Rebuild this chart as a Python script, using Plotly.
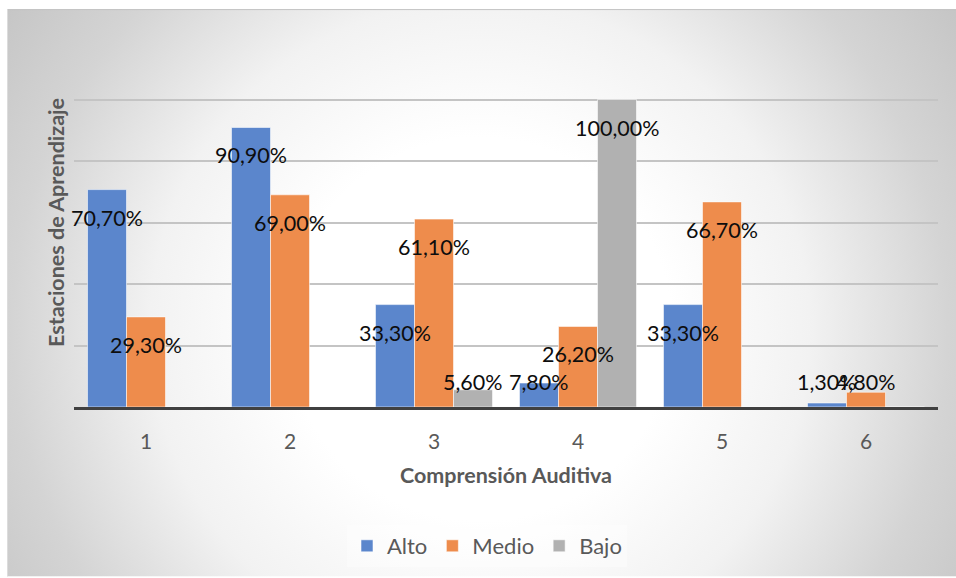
import plotly.graph_objects as go
from urllib.parse import quote

# Data
categories = [1, 2, 3, 4, 5, 6]
series_names = ["Alto", "Medio", "Bajo"]
alto = [70.7, 90.9, 33.3, 7.8, 33.3, 1.3]
medio = [29.3, 69.0, 61.1, 26.2, 66.7, 4.8]
bajo = [0.0, 0.0, 5.6, 100.0, 0.0, 0.0]
colors = ["#5B86CC", "#EE8C4C", "#B1B1B1"]

W, H = 956, 578
L, R, T, B = 74, 18, 38, 170
plot_w, plot_h = W - L - R, H - T - B
cat_px = plot_w / len(categories)
bargap = 0.1875
bar_px = cat_px * (1 - bargap) / 3

FONT = "Lato, 'Open Sans', sans-serif"


def fmt(v):
    return f"{v:.2f}".replace(".", ",") + "%"


fig = go.Figure()
for name, vals, col in zip(series_names, [alto, medio, bajo], colors):
    fig.add_trace(go.Bar(
        x=categories, y=vals, name=name,
        marker=dict(color=col, line=dict(color="rgba(255,255,255,0.55)", width=1)),
        hoverinfo="skip",
    ))

# Value labels centred on each bar, just under its top (or above the base for short bars)
annotations = []
for i, vals in enumerate([alto, medio, bajo]):
    offset = (i - 1) * bar_px
    for c, v in zip(categories, vals):
        if v <= 0:
            continue
        if v >= 20:
            y, ys = v, -28
        else:
            y, ys = 0, 25
        annotations.append(dict(
            x=c, y=y, xref="x", yref="y", text=fmt(v), showarrow=False,
            xshift=offset, yshift=ys, xanchor="center", yanchor="middle",
            font=dict(family=FONT, size=21.5, color="#0d0d0d"),
        ))

# Radial gradient backdrop for the chart frame
fx0, fy0 = 7, 9
fw, fh = W - fx0, H - fy0
svg = (
    f"<svg xmlns='http://www.w3.org/2000/svg' width='{fw}' height='{fh}' viewBox='0 0 {fw} {fh}' preserveAspectRatio='none'>"
    f"<defs><radialGradient id='g' gradientUnits='userSpaceOnUse' cx='473' cy='321' r='600'>"
    "<stop offset='0' stop-color='#ffffff'/>"
    "<stop offset='0.32' stop-color='#ffffff'/>"
    "<stop offset='0.55' stop-color='#f2f2f2'/>"
    "<stop offset='0.78' stop-color='#d4d4d4'/>"
    "<stop offset='0.95' stop-color='#c6c6c6'/>"
    "<stop offset='1' stop-color='#c3c3c3'/>"
    "</radialGradient></defs>"
    f"<rect x='0' y='0' width='{fw}' height='{fh}' fill='url(#g)'/>"
    f"<line x1='0' y1='0.5' x2='{fw}' y2='0.5' stroke='#c4c4c4' stroke-width='1'/>"
    f"<line x1='0.5' y1='0' x2='0.5' y2='{fh}' stroke='#dcdcdc' stroke-width='1'/>"
    "</svg>"
)
src = "data:image/svg+xml;charset=utf-8," + quote(svg)

fig.update_layout(
    width=W, height=H,
    margin=dict(l=L, r=R, t=T, b=B, pad=0),
    paper_bgcolor="white",
    plot_bgcolor="rgba(0,0,0,0)",
    barmode="group",
    bargap=bargap,
    bargroupgap=0,
    font=dict(family=FONT, color="#595959"),
    images=[dict(
        source=src, xref="paper", yref="paper",
        x=(fx0 - L) / plot_w, y=(H - B - fy0) / plot_h,
        sizex=fw / plot_w, sizey=fh / plot_h,
        xanchor="left", yanchor="top", sizing="stretch", layer="below",
    )],
    xaxis=dict(
        tickmode="array", tickvals=categories, ticktext=[str(c) for c in categories],
        range=[0.5, 6.5], showgrid=False, zeroline=False,
        showline=True, linecolor="#404040", linewidth=3,
        ticks="", ticklabelstandoff=14,
        tickfont=dict(family=FONT, size=21, color="#595959"),
        title=dict(text="<b>Comprensión Auditiva</b>", standoff=16,
                   font=dict(family=FONT, size=21.5, color="#595959")),
    ),
    yaxis=dict(
        range=[0, 120], dtick=20, showticklabels=False,
        showgrid=True, gridcolor="#c4c4c4", gridwidth=1.5, zeroline=False,
        title=dict(text="<b>Estaciones de Aprendizaje</b>", standoff=2,
                   font=dict(family=FONT, size=21.5, color="#595959")),
    ),
    legend=dict(
        orientation="h", x=(487 - L) / plot_w, y=(H - B - 546) / plot_h,
        xanchor="center", yanchor="middle",
        bgcolor="rgba(255,255,255,0.35)", borderwidth=0,
        font=dict(family=FONT, size=22, color="#595959"),
        itemwidth=30, traceorder="normal",
    ),
    annotations=annotations,
    showlegend=True,
)

fig.write_html("out.html")
